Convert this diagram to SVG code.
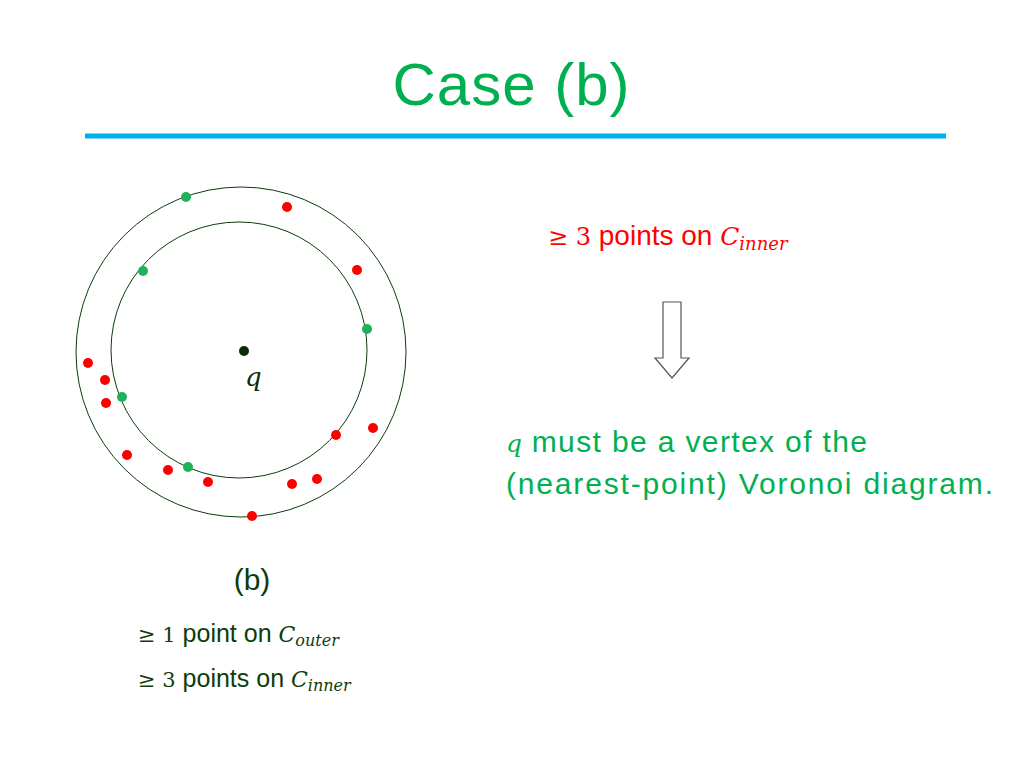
<svg xmlns="http://www.w3.org/2000/svg" width="1024" height="768" viewBox="0 0 1024 768">
<style>
.t{font-family:"Liberation Sans",Arial,sans-serif}
.m{font-family:"DejaVu Serif",serif;font-style:italic}
.n{font-family:"DejaVu Serif",serif;font-style:normal}
.g{fill:#1fb25a}.r{fill:#f00}
</style>
<rect width="1024" height="768" fill="#fff"/>
<text class="t" x="511" y="105" font-size="60" fill="#00b050" text-anchor="middle" textLength="237">Case (b)</text>
<line x1="85" y1="136" x2="946" y2="136" stroke="#00b0f0" stroke-width="5"/>
<g id="circles" fill="none" stroke="#0b3d0b" stroke-width="1">
<circle cx="241" cy="352" r="165"/>
<circle cx="239" cy="350" r="128"/>
</g>
<g id="points">
<circle class="g" cx="186" cy="197" r="5"/><circle class="g" cx="143" cy="271" r="5"/><circle class="g" cx="367" cy="329" r="5"/><circle class="g" cx="122" cy="397" r="5"/><circle class="g" cx="188" cy="467" r="5"/>
<circle class="r" cx="287" cy="207" r="5"/><circle class="r" cx="357" cy="270" r="5"/><circle class="r" cx="88" cy="363" r="5"/><circle class="r" cx="105" cy="380" r="5"/><circle class="r" cx="106" cy="403" r="5"/><circle class="r" cx="373" cy="428" r="5"/><circle class="r" cx="336" cy="435" r="5"/><circle class="r" cx="127" cy="455" r="5"/><circle class="r" cx="168" cy="470" r="5"/><circle class="r" cx="208" cy="482" r="5"/><circle class="r" cx="292" cy="484" r="5"/><circle class="r" cx="317" cy="479" r="5"/><circle class="r" cx="252" cy="516" r="5"/>
<circle cx="244" cy="351" r="5" fill="#0b2d0b"/>
<text class="m" x="245" y="386" font-size="26" fill="#0b2d0b">q</text>
</g>
<text x="548" y="245" font-size="28" fill="#f00"><tspan class="n" font-size="24">≥ 3</tspan><tspan class="t"> points on </tspan><tspan class="m" font-size="25">C</tspan><tspan class="m" font-size="18" dy="5">inner</tspan></text>
<g id="arrow"><path d="M663 302H681V358H689L672 378L655 358H663Z" fill="#fff" stroke="#555" stroke-width="1.2"/></g>
<text x="506" y="452" font-size="30" fill="#00b050"><tspan class="m" font-size="25">q</tspan><tspan class="t" textLength="345"> must be a vertex of the</tspan></text>
<text class="t" x="506" y="494" font-size="30" fill="#00b050" textLength="487">(nearest-point) Voronoi diagram.</text>
<text class="t" x="252" y="590" font-size="30" fill="#0b3d0b" text-anchor="middle">(b)</text>
<text x="138" y="642" font-size="25" fill="#0b3d0b"><tspan class="n" font-size="21">≥ 1</tspan><tspan class="t"> point on </tspan><tspan class="m" font-size="22">C</tspan><tspan class="m" font-size="16" dy="4">outer</tspan></text>
<text x="138" y="687" font-size="25" fill="#0b3d0b"><tspan class="n" font-size="21">≥ 3</tspan><tspan class="t"> points on </tspan><tspan class="m" font-size="22">C</tspan><tspan class="m" font-size="16" dy="4">inner</tspan></text>
</svg>
